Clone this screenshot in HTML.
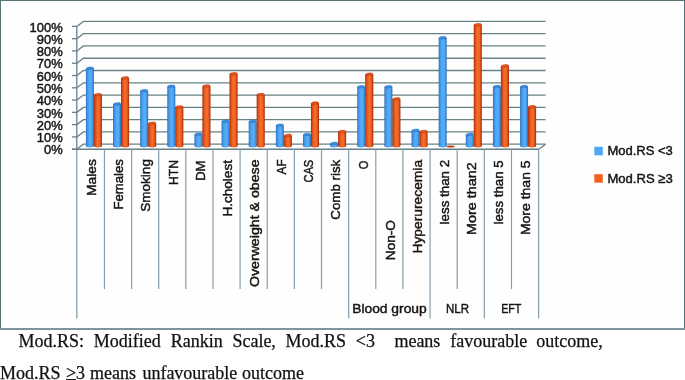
<!DOCTYPE html>
<html><head><meta charset="utf-8"><style>
html,body{margin:0;padding:0;background:#fff;}
body{width:685px;height:380px;position:relative;overflow:hidden;}
.cap{position:absolute;left:0;font-family:"Liberation Serif",serif;font-size:18px;line-height:18px;color:#111;white-space:nowrap;will-change:transform;-webkit-text-stroke:0.25px #111;}
</style></head><body>
<svg width="685" height="330" viewBox="0 0 685 330" style="position:absolute;left:0;top:0;will-change:transform"><defs>
<linearGradient id="gb" x1="0" x2="1" y1="0" y2="0">
<stop offset="0" stop-color="#2a68b0"/><stop offset="0.1" stop-color="#3886d6"/><stop offset="0.25" stop-color="#479de8"/><stop offset="0.55" stop-color="#56aefc"/><stop offset="0.75" stop-color="#4ca4f4"/><stop offset="0.88" stop-color="#3a88d6"/><stop offset="1" stop-color="#2a64a6"/>
</linearGradient>
<linearGradient id="go" x1="0" x2="1" y1="0" y2="0">
<stop offset="0" stop-color="#9a2808"/><stop offset="0.1" stop-color="#c23e0e"/><stop offset="0.25" stop-color="#e6581c"/><stop offset="0.5" stop-color="#f86e2c"/><stop offset="0.72" stop-color="#ee6222"/><stop offset="0.87" stop-color="#cc4618"/><stop offset="1" stop-color="#962a0c"/>
</linearGradient>
</defs><rect x="0.5" y="0.5" width="684" height="328" fill="#fefefe" stroke="#587374" stroke-width="1"/><rect x="0" y="328" width="685" height="2" fill="#7f959c"/><path d="M76.80 149.20 L83.40 144.20 L545.6 144.20" fill="none" stroke="#668284" stroke-width="1.3"/><line x1="72" y1="149.20" x2="76.8" y2="149.20" stroke="#64808a" stroke-width="1.3"/><path d="M76.80 136.92 L83.40 131.92 L545.6 131.92" fill="none" stroke="#668284" stroke-width="1.3"/><line x1="72" y1="136.92" x2="76.8" y2="136.92" stroke="#64808a" stroke-width="1.3"/><path d="M76.80 124.64 L83.40 119.64 L545.6 119.64" fill="none" stroke="#668284" stroke-width="1.3"/><line x1="72" y1="124.64" x2="76.8" y2="124.64" stroke="#64808a" stroke-width="1.3"/><path d="M76.80 112.36 L83.40 107.36 L545.6 107.36" fill="none" stroke="#668284" stroke-width="1.3"/><line x1="72" y1="112.36" x2="76.8" y2="112.36" stroke="#64808a" stroke-width="1.3"/><path d="M76.80 100.08 L83.40 95.08 L545.6 95.08" fill="none" stroke="#668284" stroke-width="1.3"/><line x1="72" y1="100.08" x2="76.8" y2="100.08" stroke="#64808a" stroke-width="1.3"/><path d="M76.80 87.80 L83.40 82.80 L545.6 82.80" fill="none" stroke="#668284" stroke-width="1.3"/><line x1="72" y1="87.80" x2="76.8" y2="87.80" stroke="#64808a" stroke-width="1.3"/><path d="M76.80 75.52 L83.40 70.52 L545.6 70.52" fill="none" stroke="#668284" stroke-width="1.3"/><line x1="72" y1="75.52" x2="76.8" y2="75.52" stroke="#64808a" stroke-width="1.3"/><path d="M76.80 63.24 L83.40 58.24 L545.6 58.24" fill="none" stroke="#668284" stroke-width="1.3"/><line x1="72" y1="63.24" x2="76.8" y2="63.24" stroke="#64808a" stroke-width="1.3"/><path d="M76.80 50.96 L83.40 45.96 L545.6 45.96" fill="none" stroke="#668284" stroke-width="1.3"/><line x1="72" y1="50.96" x2="76.8" y2="50.96" stroke="#64808a" stroke-width="1.3"/><path d="M76.80 38.68 L83.40 33.68 L545.6 33.68" fill="none" stroke="#668284" stroke-width="1.3"/><line x1="72" y1="38.68" x2="76.8" y2="38.68" stroke="#64808a" stroke-width="1.3"/><path d="M76.80 26.40 L83.40 21.40 L545.6 21.40" fill="none" stroke="#668284" stroke-width="1.3"/><line x1="72" y1="26.40" x2="76.8" y2="26.40" stroke="#64808a" stroke-width="1.3"/><line x1="538.6" y1="149.20" x2="545.6" y2="144.20" stroke="#668284" stroke-width="1.3"/><line x1="76.8" y1="26.40" x2="76.8" y2="149.20" stroke="#64808a" stroke-width="1.3"/><line x1="76.8" y1="149.20" x2="76.8" y2="318.5" stroke="#879dab" stroke-width="1.3"/><line x1="72" y1="149.20" x2="538.6" y2="149.20" stroke="#64808a" stroke-width="1.5"/><line x1="104.44" y1="149.20" x2="104.44" y2="289" stroke="#879dab" stroke-width="1.2"/><line x1="131.57" y1="149.20" x2="131.57" y2="289" stroke="#879dab" stroke-width="1.2"/><line x1="158.70" y1="149.20" x2="158.70" y2="289" stroke="#879dab" stroke-width="1.2"/><line x1="185.84" y1="149.20" x2="185.84" y2="289" stroke="#879dab" stroke-width="1.2"/><line x1="212.98" y1="149.20" x2="212.98" y2="289" stroke="#879dab" stroke-width="1.2"/><line x1="240.11" y1="149.20" x2="240.11" y2="289" stroke="#879dab" stroke-width="1.2"/><line x1="267.25" y1="149.20" x2="267.25" y2="289" stroke="#879dab" stroke-width="1.2"/><line x1="294.38" y1="149.20" x2="294.38" y2="289" stroke="#879dab" stroke-width="1.2"/><line x1="321.51" y1="149.20" x2="321.51" y2="289" stroke="#879dab" stroke-width="1.2"/><line x1="348.65" y1="149.20" x2="348.65" y2="318.5" stroke="#879dab" stroke-width="1.2"/><line x1="375.79" y1="149.20" x2="375.79" y2="289" stroke="#879dab" stroke-width="1.2"/><line x1="402.92" y1="149.20" x2="402.92" y2="289" stroke="#879dab" stroke-width="1.2"/><line x1="430.06" y1="149.20" x2="430.06" y2="318.5" stroke="#879dab" stroke-width="1.2"/><line x1="457.19" y1="149.20" x2="457.19" y2="289" stroke="#879dab" stroke-width="1.2"/><line x1="484.33" y1="149.20" x2="484.33" y2="318.5" stroke="#879dab" stroke-width="1.2"/><line x1="511.46" y1="149.20" x2="511.46" y2="289" stroke="#879dab" stroke-width="1.2"/><line x1="538.60" y1="149.20" x2="538.60" y2="318.5" stroke="#879dab" stroke-width="1.2"/><path d="M85.90 68.30 L93.90 68.30 L93.90 146.00 A4.00 1.4 0 0 1 85.90 146.00 Z" fill="url(#gb)"/><ellipse cx="89.90" cy="68.30" rx="3.65" ry="1.25" fill="#3a8ee0" stroke="#2c6cbc" stroke-width="0.5" transform="rotate(-5 89.90 68.30)"/><path d="M93.85 94.70 L101.95 94.70 L101.95 146.00 A4.05 1.4 0 0 1 93.85 146.00 Z" fill="url(#go)"/><ellipse cx="97.90" cy="94.70" rx="3.70" ry="1.25" fill="#e4581c" stroke="#b53210" stroke-width="0.5" transform="rotate(-5 97.90 94.70)"/><path d="M113.03 103.90 L121.03 103.90 L121.03 146.00 A4.00 1.4 0 0 1 113.03 146.00 Z" fill="url(#gb)"/><ellipse cx="117.03" cy="103.90" rx="3.65" ry="1.25" fill="#3a8ee0" stroke="#2c6cbc" stroke-width="0.5" transform="rotate(-5 117.03 103.90)"/><path d="M120.98 77.90 L129.09 77.90 L129.09 146.00 A4.05 1.4 0 0 1 120.98 146.00 Z" fill="url(#go)"/><ellipse cx="125.03" cy="77.90" rx="3.70" ry="1.25" fill="#e4581c" stroke="#b53210" stroke-width="0.5" transform="rotate(-5 125.03 77.90)"/><path d="M140.17 90.80 L148.17 90.80 L148.17 146.00 A4.00 1.4 0 0 1 140.17 146.00 Z" fill="url(#gb)"/><ellipse cx="144.17" cy="90.80" rx="3.65" ry="1.25" fill="#3a8ee0" stroke="#2c6cbc" stroke-width="0.5" transform="rotate(-5 144.17 90.80)"/><path d="M148.12 123.30 L156.22 123.30 L156.22 146.00 A4.05 1.4 0 0 1 148.12 146.00 Z" fill="url(#go)"/><ellipse cx="152.17" cy="123.30" rx="3.70" ry="1.25" fill="#e4581c" stroke="#b53210" stroke-width="0.5" transform="rotate(-5 152.17 123.30)"/><path d="M167.30 86.30 L175.30 86.30 L175.30 146.00 A4.00 1.4 0 0 1 167.30 146.00 Z" fill="url(#gb)"/><ellipse cx="171.30" cy="86.30" rx="3.65" ry="1.25" fill="#3a8ee0" stroke="#2c6cbc" stroke-width="0.5" transform="rotate(-5 171.30 86.30)"/><path d="M175.25 107.00 L183.35 107.00 L183.35 146.00 A4.05 1.4 0 0 1 175.25 146.00 Z" fill="url(#go)"/><ellipse cx="179.31" cy="107.00" rx="3.70" ry="1.25" fill="#e4581c" stroke="#b53210" stroke-width="0.5" transform="rotate(-5 179.31 107.00)"/><path d="M194.44 134.20 L202.44 134.20 L202.44 146.00 A4.00 1.4 0 0 1 194.44 146.00 Z" fill="url(#gb)"/><ellipse cx="198.44" cy="134.20" rx="3.65" ry="1.25" fill="#3a8ee0" stroke="#2c6cbc" stroke-width="0.5" transform="rotate(-5 198.44 134.20)"/><path d="M202.39 86.10 L210.49 86.10 L210.49 146.00 A4.05 1.4 0 0 1 202.39 146.00 Z" fill="url(#go)"/><ellipse cx="206.44" cy="86.10" rx="3.70" ry="1.25" fill="#e4581c" stroke="#b53210" stroke-width="0.5" transform="rotate(-5 206.44 86.10)"/><path d="M221.58 121.20 L229.58 121.20 L229.58 146.00 A4.00 1.4 0 0 1 221.58 146.00 Z" fill="url(#gb)"/><ellipse cx="225.58" cy="121.20" rx="3.65" ry="1.25" fill="#3a8ee0" stroke="#2c6cbc" stroke-width="0.5" transform="rotate(-5 225.58 121.20)"/><path d="M229.53 73.80 L237.63 73.80 L237.63 146.00 A4.05 1.4 0 0 1 229.53 146.00 Z" fill="url(#go)"/><ellipse cx="233.58" cy="73.80" rx="3.70" ry="1.25" fill="#e4581c" stroke="#b53210" stroke-width="0.5" transform="rotate(-5 233.58 73.80)"/><path d="M248.71 121.20 L256.71 121.20 L256.71 146.00 A4.00 1.4 0 0 1 248.71 146.00 Z" fill="url(#gb)"/><ellipse cx="252.71" cy="121.20" rx="3.65" ry="1.25" fill="#3a8ee0" stroke="#2c6cbc" stroke-width="0.5" transform="rotate(-5 252.71 121.20)"/><path d="M256.66 94.60 L264.76 94.60 L264.76 146.00 A4.05 1.4 0 0 1 256.66 146.00 Z" fill="url(#go)"/><ellipse cx="260.71" cy="94.60" rx="3.70" ry="1.25" fill="#e4581c" stroke="#b53210" stroke-width="0.5" transform="rotate(-5 260.71 94.60)"/><path d="M275.85 125.20 L283.85 125.20 L283.85 146.00 A4.00 1.4 0 0 1 275.85 146.00 Z" fill="url(#gb)"/><ellipse cx="279.85" cy="125.20" rx="3.65" ry="1.25" fill="#3a8ee0" stroke="#2c6cbc" stroke-width="0.5" transform="rotate(-5 279.85 125.20)"/><path d="M283.80 135.40 L291.90 135.40 L291.90 146.00 A4.05 1.4 0 0 1 283.80 146.00 Z" fill="url(#go)"/><ellipse cx="287.85" cy="135.40" rx="3.70" ry="1.25" fill="#e4581c" stroke="#b53210" stroke-width="0.5" transform="rotate(-5 287.85 135.40)"/><path d="M302.98 134.60 L310.98 134.60 L310.98 146.00 A4.00 1.4 0 0 1 302.98 146.00 Z" fill="url(#gb)"/><ellipse cx="306.98" cy="134.60" rx="3.65" ry="1.25" fill="#3a8ee0" stroke="#2c6cbc" stroke-width="0.5" transform="rotate(-5 306.98 134.60)"/><path d="M310.93 103.10 L319.03 103.10 L319.03 146.00 A4.05 1.4 0 0 1 310.93 146.00 Z" fill="url(#go)"/><ellipse cx="314.98" cy="103.10" rx="3.70" ry="1.25" fill="#e4581c" stroke="#b53210" stroke-width="0.5" transform="rotate(-5 314.98 103.10)"/><path d="M330.12 143.40 L338.12 143.40 L338.12 146.00 A4.00 1.4 0 0 1 330.12 146.00 Z" fill="url(#gb)"/><ellipse cx="334.12" cy="143.40" rx="3.65" ry="1.25" fill="#3a8ee0" stroke="#2c6cbc" stroke-width="0.5" transform="rotate(-5 334.12 143.40)"/><path d="M338.06 131.50 L346.17 131.50 L346.17 146.00 A4.05 1.4 0 0 1 338.06 146.00 Z" fill="url(#go)"/><ellipse cx="342.12" cy="131.50" rx="3.70" ry="1.25" fill="#e4581c" stroke="#b53210" stroke-width="0.5" transform="rotate(-5 342.12 131.50)"/><path d="M357.25 86.80 L365.25 86.80 L365.25 146.00 A4.00 1.4 0 0 1 357.25 146.00 Z" fill="url(#gb)"/><ellipse cx="361.25" cy="86.80" rx="3.65" ry="1.25" fill="#3a8ee0" stroke="#2c6cbc" stroke-width="0.5" transform="rotate(-5 361.25 86.80)"/><path d="M365.20 74.20 L373.30 74.20 L373.30 146.00 A4.05 1.4 0 0 1 365.20 146.00 Z" fill="url(#go)"/><ellipse cx="369.25" cy="74.20" rx="3.70" ry="1.25" fill="#e4581c" stroke="#b53210" stroke-width="0.5" transform="rotate(-5 369.25 74.20)"/><path d="M384.39 86.80 L392.39 86.80 L392.39 146.00 A4.00 1.4 0 0 1 384.39 146.00 Z" fill="url(#gb)"/><ellipse cx="388.39" cy="86.80" rx="3.65" ry="1.25" fill="#3a8ee0" stroke="#2c6cbc" stroke-width="0.5" transform="rotate(-5 388.39 86.80)"/><path d="M392.34 98.90 L400.44 98.90 L400.44 146.00 A4.05 1.4 0 0 1 392.34 146.00 Z" fill="url(#go)"/><ellipse cx="396.39" cy="98.90" rx="3.70" ry="1.25" fill="#e4581c" stroke="#b53210" stroke-width="0.5" transform="rotate(-5 396.39 98.90)"/><path d="M411.52 130.40 L419.52 130.40 L419.52 146.00 A4.00 1.4 0 0 1 411.52 146.00 Z" fill="url(#gb)"/><ellipse cx="415.52" cy="130.40" rx="3.65" ry="1.25" fill="#3a8ee0" stroke="#2c6cbc" stroke-width="0.5" transform="rotate(-5 415.52 130.40)"/><path d="M419.47 131.50 L427.57 131.50 L427.57 146.00 A4.05 1.4 0 0 1 419.47 146.00 Z" fill="url(#go)"/><ellipse cx="423.52" cy="131.50" rx="3.70" ry="1.25" fill="#e4581c" stroke="#b53210" stroke-width="0.5" transform="rotate(-5 423.52 131.50)"/><path d="M438.66 37.70 L446.66 37.70 L446.66 146.00 A4.00 1.4 0 0 1 438.66 146.00 Z" fill="url(#gb)"/><ellipse cx="442.66" cy="37.70" rx="3.65" ry="1.25" fill="#3a8ee0" stroke="#2c6cbc" stroke-width="0.5" transform="rotate(-5 442.66 37.70)"/><ellipse cx="450.66" cy="146.50" rx="4.05" ry="0.9" fill="#c4360c"/><path d="M465.79 134.40 L473.79 134.40 L473.79 146.00 A4.00 1.4 0 0 1 465.79 146.00 Z" fill="url(#gb)"/><ellipse cx="469.79" cy="134.40" rx="3.65" ry="1.25" fill="#3a8ee0" stroke="#2c6cbc" stroke-width="0.5" transform="rotate(-5 469.79 134.40)"/><path d="M473.74 24.70 L481.84 24.70 L481.84 146.00 A4.05 1.4 0 0 1 473.74 146.00 Z" fill="url(#go)"/><ellipse cx="477.79" cy="24.70" rx="3.70" ry="1.25" fill="#e4581c" stroke="#b53210" stroke-width="0.5" transform="rotate(-5 477.79 24.70)"/><path d="M492.93 86.60 L500.93 86.60 L500.93 146.00 A4.00 1.4 0 0 1 492.93 146.00 Z" fill="url(#gb)"/><ellipse cx="496.93" cy="86.60" rx="3.65" ry="1.25" fill="#3a8ee0" stroke="#2c6cbc" stroke-width="0.5" transform="rotate(-5 496.93 86.60)"/><path d="M500.88 65.90 L508.98 65.90 L508.98 146.00 A4.05 1.4 0 0 1 500.88 146.00 Z" fill="url(#go)"/><ellipse cx="504.93" cy="65.90" rx="3.70" ry="1.25" fill="#e4581c" stroke="#b53210" stroke-width="0.5" transform="rotate(-5 504.93 65.90)"/><path d="M520.06 86.60 L528.06 86.60 L528.06 146.00 A4.00 1.4 0 0 1 520.06 146.00 Z" fill="url(#gb)"/><ellipse cx="524.06" cy="86.60" rx="3.65" ry="1.25" fill="#3a8ee0" stroke="#2c6cbc" stroke-width="0.5" transform="rotate(-5 524.06 86.60)"/><path d="M528.01 106.70 L536.11 106.70 L536.11 146.00 A4.05 1.4 0 0 1 528.01 146.00 Z" fill="url(#go)"/><ellipse cx="532.06" cy="106.70" rx="3.70" ry="1.25" fill="#e4581c" stroke="#b53210" stroke-width="0.5" transform="rotate(-5 532.06 106.70)"/><g font-family="Liberation Sans" fill="#141414" stroke="#141414" stroke-width="0.45"><text x="44.00" y="154.40" font-size="13.3" textLength="18.70" lengthAdjust="spacingAndGlyphs">0%</text><text x="36.81" y="142.12" font-size="13.3" textLength="25.90" lengthAdjust="spacingAndGlyphs">10%</text><text x="36.81" y="129.84" font-size="13.3" textLength="25.90" lengthAdjust="spacingAndGlyphs">20%</text><text x="36.81" y="117.56" font-size="13.3" textLength="25.90" lengthAdjust="spacingAndGlyphs">30%</text><text x="36.81" y="105.28" font-size="13.3" textLength="25.90" lengthAdjust="spacingAndGlyphs">40%</text><text x="36.81" y="93.00" font-size="13.3" textLength="25.90" lengthAdjust="spacingAndGlyphs">50%</text><text x="36.81" y="80.72" font-size="13.3" textLength="25.90" lengthAdjust="spacingAndGlyphs">60%</text><text x="36.81" y="68.44" font-size="13.3" textLength="25.90" lengthAdjust="spacingAndGlyphs">70%</text><text x="36.81" y="56.16" font-size="13.3" textLength="25.90" lengthAdjust="spacingAndGlyphs">80%</text><text x="36.81" y="43.88" font-size="13.3" textLength="25.90" lengthAdjust="spacingAndGlyphs">90%</text><text x="29.60" y="31.60" font-size="13.3" textLength="33.10" lengthAdjust="spacingAndGlyphs">100%</text><text transform="translate(96.20,196.10) rotate(-90)" font-size="13.6" textLength="36.99" lengthAdjust="spacingAndGlyphs">Males</text><text transform="translate(123.34,209.60) rotate(-90)" font-size="13.6" textLength="50.49" lengthAdjust="spacingAndGlyphs">Females</text><text transform="translate(150.47,211.70) rotate(-90)" font-size="13.6" textLength="52.60" lengthAdjust="spacingAndGlyphs">Smoking</text><text transform="translate(177.60,185.10) rotate(-90)" font-size="13.6" textLength="25.10" lengthAdjust="spacingAndGlyphs">HTN</text><text transform="translate(204.74,180.80) rotate(-90)" font-size="13.6" textLength="20.20" lengthAdjust="spacingAndGlyphs">DM</text><text transform="translate(231.88,216.50) rotate(-90)" font-size="13.6" textLength="56.41" lengthAdjust="spacingAndGlyphs">H.cholest</text><text transform="translate(259.01,287.10) rotate(-90)" font-size="13.6" textLength="127.70" lengthAdjust="spacingAndGlyphs">Overweight &amp; obese</text><text transform="translate(286.14,174.40) rotate(-90)" font-size="13.6" textLength="14.90" lengthAdjust="spacingAndGlyphs">AF</text><text transform="translate(313.28,182.60) rotate(-90)" font-size="13.6" textLength="22.80" lengthAdjust="spacingAndGlyphs">CAS</text><text transform="translate(340.41,219.70) rotate(-90)" font-size="13.6" textLength="59.97" lengthAdjust="spacingAndGlyphs">Comb risk</text><text transform="translate(367.55,169.20) rotate(-90)" font-size="13.6" textLength="8.50" lengthAdjust="spacingAndGlyphs">O</text><text transform="translate(394.69,260.20) rotate(-90)" font-size="13.6" textLength="40.10" lengthAdjust="spacingAndGlyphs">Non-O</text><text transform="translate(421.82,253.60) rotate(-90)" font-size="13.6" textLength="93.69" lengthAdjust="spacingAndGlyphs">Hyperurecemia</text><text transform="translate(448.95,224.40) rotate(-90)" font-size="13.6" textLength="64.51" lengthAdjust="spacingAndGlyphs">less than 2</text><text transform="translate(476.09,235.10) rotate(-90)" font-size="13.6" textLength="72.89" lengthAdjust="spacingAndGlyphs">More than2</text><text transform="translate(503.23,224.50) rotate(-90)" font-size="13.6" textLength="64.11" lengthAdjust="spacingAndGlyphs">less than 5</text><text transform="translate(530.36,235.10) rotate(-90)" font-size="13.6" textLength="74.71" lengthAdjust="spacingAndGlyphs">More than 5</text><text x="352.20" y="312.60" font-size="13.6" textLength="74.50" lengthAdjust="spacingAndGlyphs">Blood group</text><text x="446.00" y="312.60" font-size="13.6" textLength="23.09" lengthAdjust="spacingAndGlyphs">NLR</text><text x="501.20" y="312.60" font-size="13.6" textLength="20.20" lengthAdjust="spacingAndGlyphs">EFT</text><text x="607.40" y="155.20" font-size="13.5" textLength="65.40" lengthAdjust="spacingAndGlyphs">Mod.RS &lt;3</text><text x="607.40" y="182.60" font-size="13.5" textLength="65.40" lengthAdjust="spacingAndGlyphs">Mod.RS ≥3</text></g><rect x="594.3" y="146.8" width="8.5" height="8.5" fill="#4ea6f5"/><rect x="594.3" y="174.2" width="8.5" height="8.5" fill="#f0601e"/></svg>
<div class="cap" style="top:332.3px;width:685px;height:20px"><span style="position:absolute;left:18.5px;top:0">Mod.RS:</span><span style="position:absolute;left:93.7px;top:0">Modified</span><span style="position:absolute;left:170.7px;top:0">Rankin</span><span style="position:absolute;left:232.4px;top:0">Scale,</span><span style="position:absolute;left:285.5px;top:0">Mod.RS</span><span style="position:absolute;left:355.8px;top:0">&lt;3</span><span style="position:absolute;left:394.4px;top:0">means</span><span style="position:absolute;left:450.2px;top:0">favourable</span><span style="position:absolute;left:536.3px;top:0">outcome,</span></div>
<div class="cap" style="top:363.5px;width:685px;height:18px"><span style="position:absolute;left:0.1px;top:0">Mod.RS</span><span style="position:absolute;left:65.9px;top:0">&gt;</span><span style="position:absolute;left:75.9px;top:0">3</span><span style="position:absolute;left:90.0px;top:0">means</span><span style="position:absolute;left:142.4px;top:0">unfavourable</span><span style="position:absolute;left:242.0px;top:0">outcome</span></div>
<div style="position:absolute;left:66.4px;top:378.8px;width:9.4px;height:1.1px;background:#222"></div>
</body></html>
